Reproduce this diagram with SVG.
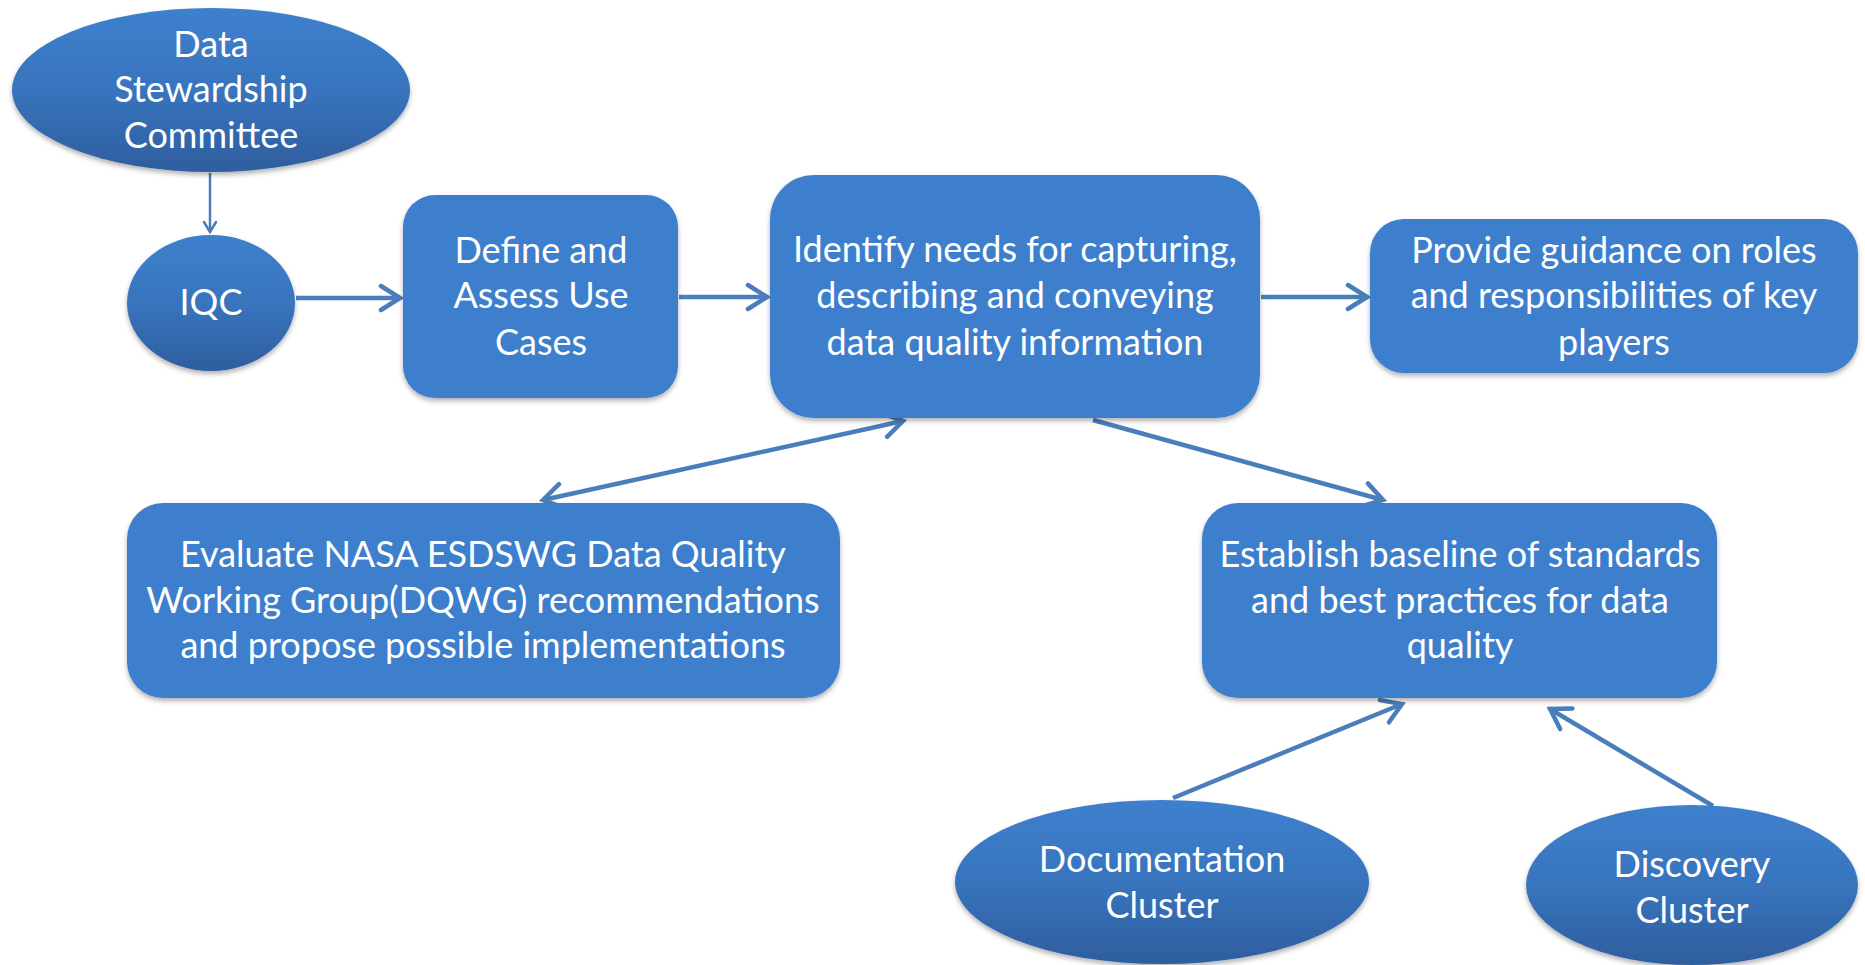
<svg xmlns="http://www.w3.org/2000/svg" width="1865" height="965" viewBox="0 0 1865 965">
  <defs>
    <style>
      .box { fill: #3e7fcc; filter: url(#shadow); }
      .oval { fill: url(#ovalGrad); filter: url(#shadow); }
      .lbl { font-family: Lato, "Liberation Sans", sans-serif; font-size: 36px; fill: #ffffff; text-anchor: middle; }
      .conn { stroke: #4a7ebb; stroke-width: 4.5; fill: none; }
      .thin { stroke: #4a7ebb; stroke-width: 2.5; fill: none; }
    </style>
    <linearGradient id="ovalGrad" x1="0" y1="0" x2="0" y2="1">
      <stop offset="0" stop-color="#3e80cd"/>
      <stop offset="0.5" stop-color="#3874bd"/>
      <stop offset="1" stop-color="#2e5e9e"/>
    </linearGradient>
    <filter id="shadow" x="-10%" y="-10%" width="120%" height="130%">
      <feDropShadow dx="0" dy="3" stdDeviation="2.5" flood-color="#000000" flood-opacity="0.3"/>
    </filter>
    <marker id="arrow" viewBox="-24 -16 28 32" refX="0" refY="0" markerWidth="28" markerHeight="32" markerUnits="userSpaceOnUse" orient="auto-start-reverse">
      <path d="M -19 -12 L 0 0 L -19 12" fill="none" stroke="#4a7ebb" stroke-width="4.5" stroke-linecap="round" stroke-linejoin="miter"/>
    </marker>
    <marker id="arrowThin" viewBox="-14 -9 16 18" refX="0" refY="0" markerWidth="16" markerHeight="18" markerUnits="userSpaceOnUse" orient="auto">
      <path d="M -10 -6 L 0 0 L -10 6" fill="none" stroke="#4a7ebb" stroke-width="2.5" stroke-linecap="round"/>
    </marker>
  </defs>

  <rect x="0" y="0" width="1865" height="965" fill="#ffffff"/>

  <g id="connectors">
    <line class="thin" x1="210" y1="173" x2="210" y2="232" marker-end="url(#arrowThin)"/>
    <line class="conn" x1="296" y1="298" x2="400" y2="298" marker-end="url(#arrow)"/>
    <line class="conn" x1="679" y1="297" x2="767" y2="297" marker-end="url(#arrow)"/>
    <line class="conn" x1="1261" y1="297" x2="1367" y2="297" marker-end="url(#arrow)"/>
    <line class="conn" x1="903" y1="421" x2="543" y2="500" marker-start="url(#arrow)" marker-end="url(#arrow)"/>
    <line class="conn" x1="1093" y1="420" x2="1383" y2="500" marker-end="url(#arrow)"/>
    <line class="conn" x1="1173" y1="798" x2="1402" y2="704" marker-end="url(#arrow)"/>
    <line class="conn" x1="1713" y1="806" x2="1550" y2="709" marker-end="url(#arrow)"/>
  </g>

  <g id="data-stewardship-committee">
    <ellipse class="oval" cx="211" cy="90" rx="199" ry="82"/>
    <text class="lbl" x="211" y="57">Data</text>
    <text class="lbl" x="211" y="102">Stewardship</text>
    <text class="lbl" x="211" y="148">Committee</text>
  </g>

  <g id="iqc">
    <ellipse class="oval" cx="211" cy="303" rx="84" ry="68"/>
    <text class="lbl" x="211" y="315">IQC</text>
  </g>

  <g id="define-assess">
    <rect class="box" x="403" y="195" width="275" height="203" rx="32" ry="32"/>
    <text class="lbl" x="541" y="263">Define and</text>
    <text class="lbl" x="541" y="308">Assess Use</text>
    <text class="lbl" x="541" y="355">Cases</text>
  </g>

  <g id="identify-needs">
    <rect class="box" x="770" y="175" width="490" height="243" rx="44" ry="44"/>
    <text class="lbl" x="1015" y="262">Identify needs for capturing,</text>
    <text class="lbl" x="1015" y="308">describing and conveying</text>
    <text class="lbl" x="1015" y="355">data quality information</text>
  </g>

  <g id="provide-guidance">
    <rect class="box" x="1370" y="219" width="488" height="154" rx="34" ry="34"/>
    <text class="lbl" x="1614" y="263">Provide guidance on roles</text>
    <text class="lbl" x="1614" y="308">and responsibilities of key</text>
    <text class="lbl" x="1614" y="355">players</text>
  </g>

  <g id="evaluate-nasa">
    <rect class="box" x="127" y="503" width="713" height="195" rx="36" ry="36"/>
    <text class="lbl" x="483" y="567">Evaluate NASA ESDSWG Data Quality</text>
    <text class="lbl" x="483" y="613">Working Group(DQWG) recommendations</text>
    <text class="lbl" x="483" y="658">and propose possible implementations</text>
  </g>

  <g id="establish-baseline">
    <rect class="box" x="1202" y="503" width="515" height="195" rx="36" ry="36"/>
    <text class="lbl" x="1460" y="567">Establish baseline of standards</text>
    <text class="lbl" x="1460" y="613">and best practices for data</text>
    <text class="lbl" x="1460" y="658">quality</text>
  </g>

  <g id="documentation-cluster">
    <ellipse class="oval" cx="1162" cy="882" rx="207" ry="82"/>
    <text class="lbl" x="1162" y="872">Documentation</text>
    <text class="lbl" x="1162" y="918">Cluster</text>
  </g>

  <g id="discovery-cluster">
    <ellipse class="oval" cx="1692" cy="885" rx="166" ry="80"/>
    <text class="lbl" x="1692" y="877">Discovery</text>
    <text class="lbl" x="1692" y="923">Cluster</text>
  </g>
</svg>
